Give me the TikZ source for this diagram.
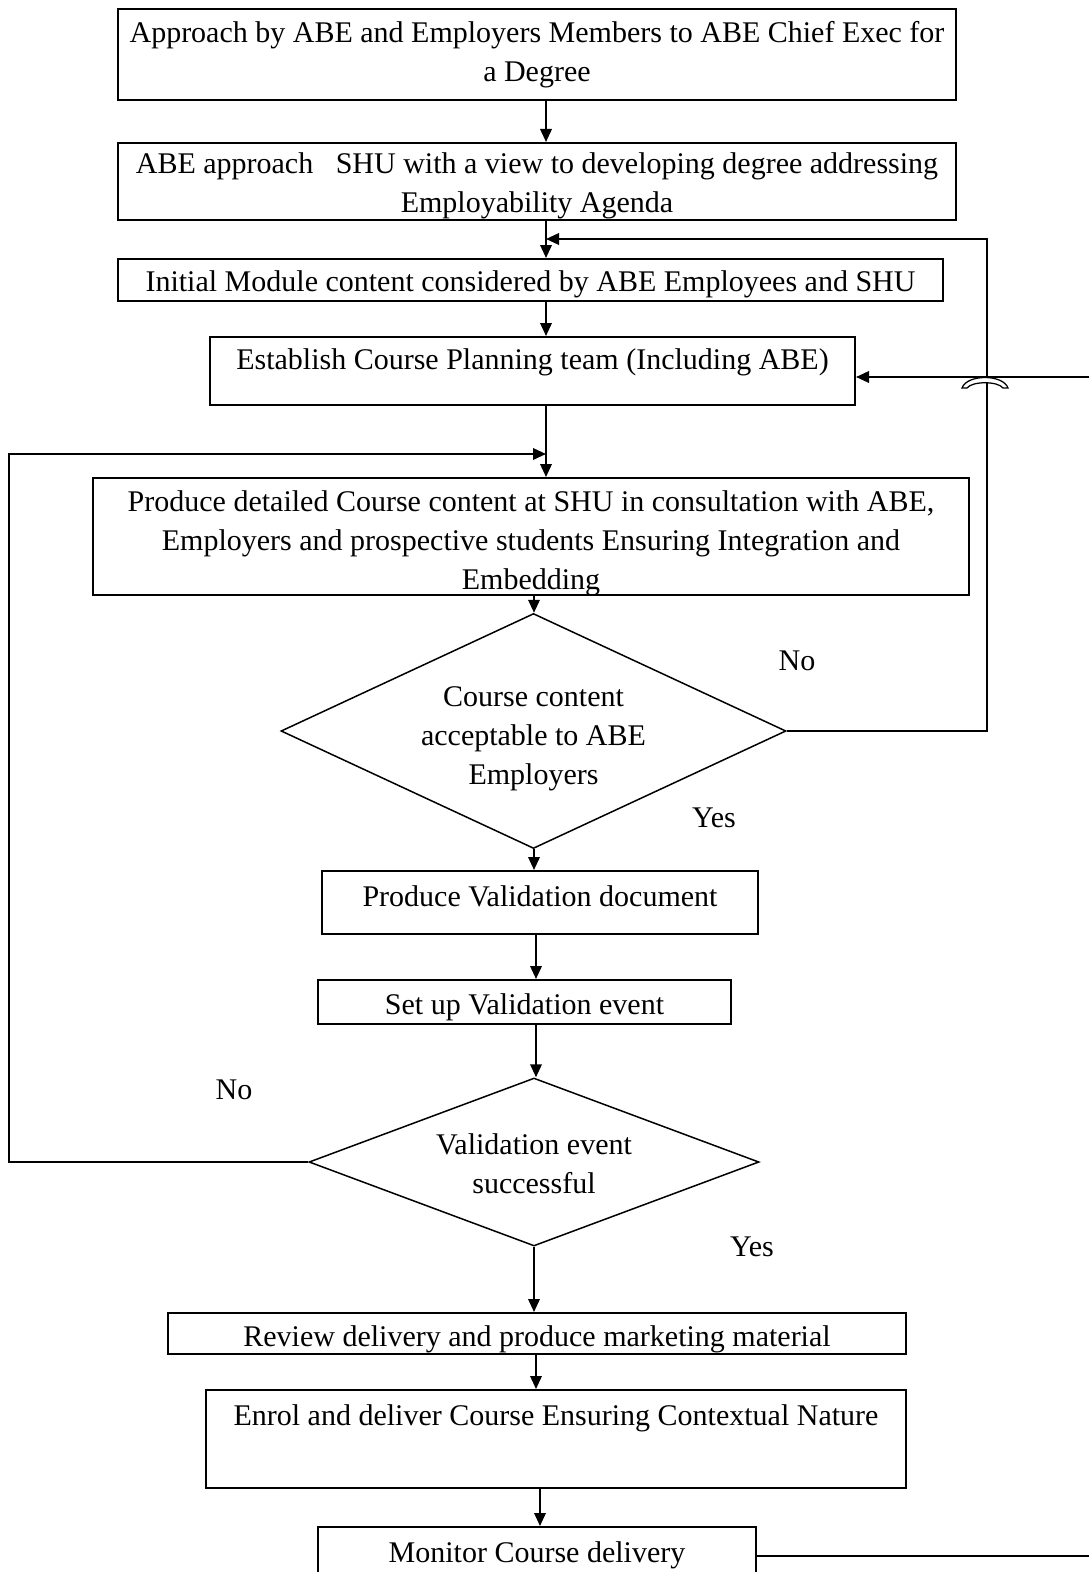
\documentclass[tikz,border=0pt]{standalone}
\usepackage{fontspec}
\setmainfont{Liberation Serif}
\usetikzlibrary{arrows.meta,shapes.geometric}
\tikzset{
  procbox/.style 2 args={draw,rectangle,minimum width=#1*0.4pt,minimum height=#2*0.4pt,inner sep=0pt,align=center},
  decbox/.style 2 args={draw,diamond,line width=0.6pt,minimum width=#1*0.4pt,minimum height=#2*0.4pt,inner sep=0pt,align=center},
  arr/.style={-{Triangle[length=5.2pt,width=4.6pt]}}
}
\begin{document}
\begin{tikzpicture}
  [x=0.4pt,y=-0.4pt,line width=0.8pt,every node/.style={font=\fontsize{12}{15.6}\selectfont}]
  \useasboundingbox (0,0) rectangle (1089,1572);
  \node[procbox={838}{91}] (n1) at (537,54.5) {Approach by ABE and Employers Members to ABE Chief Exec for\\a Degree};
  \node[procbox={838}{77},label={[yshift=-4*0.4pt,align=center]center:ABE approach \ \ SHU with a view to developing degree addressing\\Employability Agenda}] (n2) at (537,181.5) {};
  \node[procbox={825}{42},label={[yshift=-4*0.4pt]center:Initial Module content considered by ABE Employees and SHU}] (n3) at (530.5,280) {};
  \node[procbox={645}{68},label={[yshift=9*0.4pt]center:Establish Course Planning team (Including ABE)}] (n4) at (532.5,371) {};
  \node[procbox={876}{117},label={[yshift=-7*0.4pt,align=center]center:{Produce detailed Course content at SHU in consultation with ABE,\\Employers and prospective students Ensuring Integration and\\Embedding}}] (n5) at (531,536.5) {};
  \node[decbox={505}{235},aspect=2.15,label={[yshift=-8*0.4pt,align=center]center:Course content\\acceptable to ABE\\Employers}] (d1) at (533.5,731) {};
  \node[procbox={436}{63},label={[yshift=6*0.4pt]center:Produce Validation document}] (n6) at (540,902.5) {};
  \node[procbox={413}{44},label={[yshift=-5*0.4pt]center:Set up Validation event}] (n7) at (524.5,1002) {};
  \node[decbox={450}{168},aspect=2.68,label={[yshift=-2*0.4pt,align=center]center:Validation event\\successful}] (d2) at (534,1162) {};
  \node[procbox={738}{41},label={[yshift=-6*0.4pt]center:Review delivery and produce marketing material}] (n8) at (537,1333.5) {};
  \node[procbox={700}{98},label={[yshift=21*0.4pt]center:Enrol and deliver Course Ensuring Contextual Nature}] (n9) at (556,1439) {};
  \node[procbox={438}{60},label={[yshift=2*0.4pt]center:Monitor Course delivery}] (n10) at (537,1557) {};

  \node (no1) at (797,661) {No};
  \node (yes1) at (714,818) {Yes};
  \node (no2) at (234,1090) {No};
  \node (yes2) at (752,1247) {Yes};

  \coordinate (j1) at (546,239);
  \coordinate (j2) at (546,454);
  \coordinate (inR) at (1089,377);
  \coordinate (outR) at (1089,1556);

  \foreach \from/\to/\px in {n1/n2/546,n2/n3/546,n3/n4/546,n4/n5/546,n5/d1/534,d1/n6/534,n6/n7/536,n7/d2/536,d2/n8/534,n8/n9/536,n9/n10/540}
    \draw[arr] (\px,0 |- \from.south) -- (\px,0 |- \to.north);

  % loops back
  \draw[arr] (d1.east) -- ++(200,0) |- (j1);
  \draw[arr] (d2.west) -- ++(-299,0) |- (j2);
  \draw[arr] (inR) -- (inR -| n4.east);
  \draw (outR -| n10.east) -- (outR);
  % hop over
  \draw[line width=0.5pt,fill=white] (962,388) .. controls (967,374) and (1003,374) .. (1008,388) -- (1003,388) .. controls (998,381) and (972,381) .. (967,388) -- cycle;

\end{tikzpicture}
\end{document}
